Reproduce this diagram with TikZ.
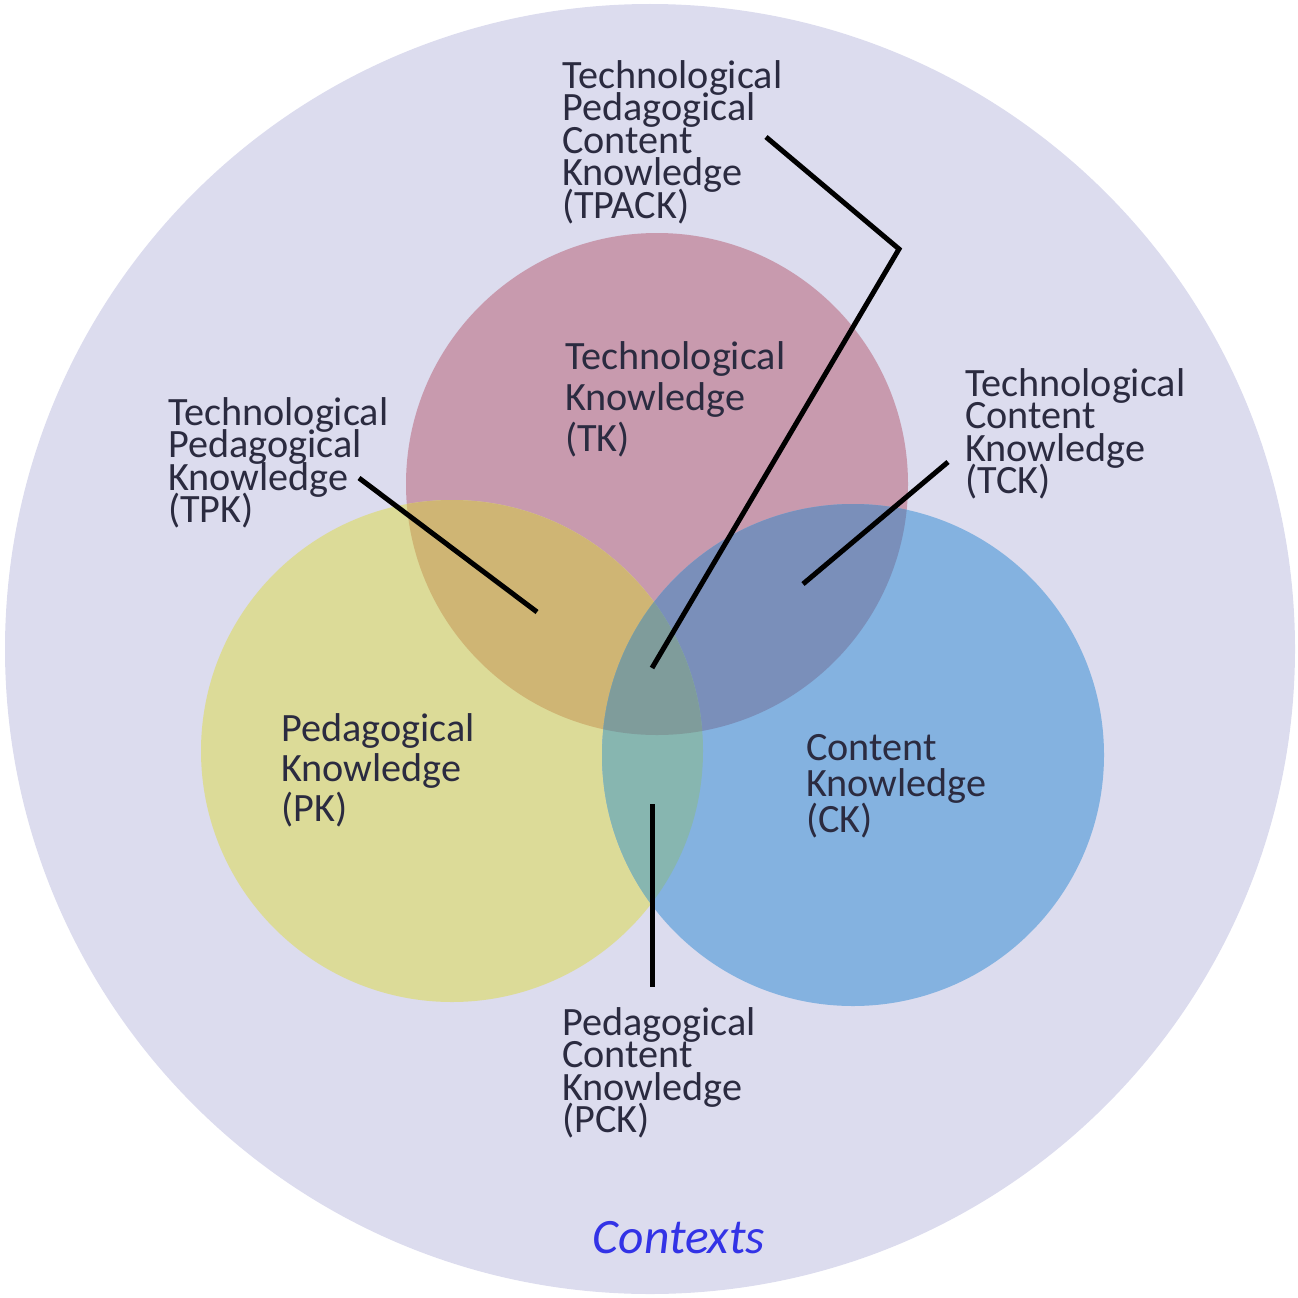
\documentclass[tikz,border=0pt]{standalone}
\usepackage{fontspec}
\setmainfont{Carlito}
\usepackage{xcolor}

\definecolor{ctxbg}{RGB}{220,220,238}
\definecolor{tkcol}{RGB}{200,154,174}
\definecolor{pkcol}{RGB}{220,219,152}
\definecolor{ckcol}{RGB}{132,178,224}
\definecolor{tpkcol}{RGB}{207,181,116}
\definecolor{tckcol}{RGB}{122,143,186}
\definecolor{pckcol}{RGB}{135,182,176}
\definecolor{tpackcol}{RGB}{127,156,155}
\definecolor{labeltext}{RGB}{43,43,64}
\definecolor{ctxtext}{RGB}{51,51,230}

\newcommand\tightlines{\lineskiplimit=-100pt\relax}

\tikzset{
  lbl/.style={anchor=north west, inner sep=0pt, align=left, text=labeltext,
    font=\fontsize{40.2}{#1}\selectfont\tightlines},
  lbl/.default=32.5,
  pointer/.style={line width=5pt, black, line join=miter}
}

\begin{document}
\begin{tikzpicture}[x=1pt,y=-1pt]
\useasboundingbox (0,0) rectangle (1298,1298);
\fill[ctxbg] (650,649) circle (645);
\coordinate (TK) at (657,484);
\coordinate (PK) at (452,751);
\coordinate (CK) at (853,755);
\fill[tkcol] (TK) circle (251);
\fill[pkcol] (PK) circle (251);
\fill[ckcol] (CK) circle (251);
% overlaps
\begin{scope}
\clip (TK) circle (251);
\fill[tpkcol] (PK) circle (251);
\fill[tckcol] (CK) circle (251);
\end{scope}
\begin{scope}
\clip (PK) circle (251);
\fill[pckcol] (CK) circle (251);
\end{scope}
\begin{scope}
\clip (TK) circle (251);
\clip (PK) circle (251);
\fill[tpackcol] (CK) circle (251);
\end{scope}
% labels
\node[lbl] (tpack) at (562,60) {Technological\\Pedagogical\\Content\\Knowledge\\(TPACK)};
\node[lbl=41] (tk) at (565,341) {Technological\\Knowledge\\(TK)};
\node[lbl] (tpk) at (168,397) {Technological\\Pedagogical\\Knowledge\\(TPK)};
\node[lbl] (tck) at (965,368) {Technological\\Content\\Knowledge\\(TCK)};
\node[lbl=40] (pk) at (281,713) {Pedagogical\\Knowledge\\(PK)};
\node[lbl=36] (ck) at (806,734) {Content\\Knowledge\\(CK)};
\node[lbl] (pck) at (562,1007) {Pedagogical\\Content\\Knowledge\\(PCK)};
\node[text=ctxtext, inner sep=0pt, font=\fontsize{49.5}{52}\selectfont\itshape] (ctx) at (679,1238) {Contexts};
% pointers
\coordinate (tpack-a) at (766,137);
\coordinate (tpack-b) at (899,249);
\coordinate (tpack-c) at (652,668);
\coordinate (tpk-a) at (359,478);
\coordinate (tpk-b) at (537,612);
\coordinate (tck-a) at (948,462);
\coordinate (tck-b) at (803,584);
\coordinate (pck-a) at (652,804);
\coordinate (pck-b) at (652,987);
\draw[pointer] (tpack-a) -- (tpack-b) -- (tpack-c);
\draw[pointer] (tpk-a) -- (tpk-b);
\draw[pointer] (tck-a) -- (tck-b);
\draw[pointer] (pck-a) -- (pck-b);
\end{tikzpicture}
\end{document}
